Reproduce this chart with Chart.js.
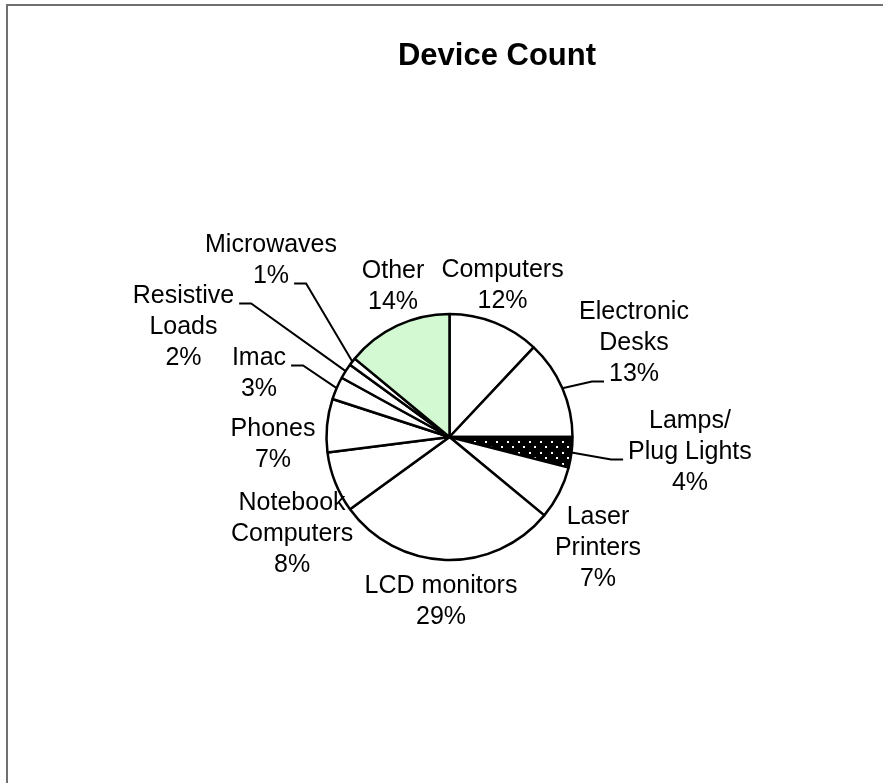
<!DOCTYPE html>
<html>
<head>
<meta charset="utf-8">
<title>Device Count</title>
<script src="https://cdn.jsdelivr.net/npm/chart.js@4.4.1/dist/chart.umd.min.js"></script>
<style>
  html, body { margin: 0; padding: 0; background: #fff; }
  #wrap { position: relative; width: 883px; height: 783px; }
</style>
</head>
<body>
<div id="wrap"><canvas id="deviceChart" width="883" height="783"></canvas></div>
<script>
// chart data
const chartTitle = 'Device Count';
const categories = ['Computers', 'Electronic Desks', 'Lamps/ Plug Lights', 'Laser Printers', 'LCD monitors',
   'Notebook Computers', 'Phones', 'Imac', 'Resistive Loads', 'Microwaves', 'Other'];
const values = [12, 13, 4, 7, 29, 8, 7, 3, 2, 1, 14];
// how each category label wraps
const labelLines = [['Computers'], ['Electronic', 'Desks'], ['Lamps/', 'Plug Lights'], ['Laser', 'Printers'],
   ['LCD monitors'], ['Notebook', 'Computers'], ['Phones'], ['Imac'], ['Resistive', 'Loads'], ['Microwaves'], ['Other']];

// label placement, in pie radii from the centre: [centre x, first baseline y]
const labelPos = [[0.431, -1.301], [1.5, -0.959], [1.955, -0.073], [1.207, 0.707], [-0.069, 1.268],
   [-1.280, 0.593], [-1.435, -0.008], [-1.549, -0.585], [-2.163, -1.089], [-1.451, -1.504], [-0.459, -1.293]];
// leader lines: null = none, otherwise [line index it attaches to, side]
const leaders = [null, [2, 'left'], [1, 'left'], null, null, null, null, [0, 'right'], [0, 'right'], [1, 'right'], null];

const FONT = '"Liberation Sans", Arial, sans-serif';
const LABEL_SIZE = 25;
const LINE_H = 31;

// black with white dots for the lamps slice
function dotPattern(ctx) {
   const tile = document.createElement('canvas');
   tile.width = 11;
   tile.height = 11;
   const t = tile.getContext('2d');
   t.fillStyle = '#000';
   t.fillRect(0, 0, 11, 11);
   t.fillStyle = '#fff';
   t.fillRect(1, 1, 2, 2);
   t.fillRect(6, 6, 2, 2);
   return ctx.createPattern(tile, 'repeat');
}

const ctx = document.getElementById('deviceChart').getContext('2d');
const fills = values.map(() => '#ffffff');
fills[2] = dotPattern(ctx);
fills[10] = '#d2f9d2';

// draws frame, title, data labels and leader lines
const labelPlugin = {
   id: 'excelLabels',
   beforeDraw(chart) {
      const c = chart.ctx;
      c.save();
      c.strokeStyle = '#707070';
      c.lineWidth = 2;
      c.strokeRect(7, 5, 1000, 1000);
      c.restore();
   },
   afterDatasetsDraw(chart) {
      const c = chart.ctx;
      const arcs = chart.getDatasetMeta(0).data;
      c.save();
      c.fillStyle = '#000';
      c.textAlign = 'center';
      c.textBaseline = 'alphabetic';
      c.font = 'bold 31px ' + FONT;
      c.fillText(chartTitle, 497, 65);

      c.font = LABEL_SIZE + 'px ' + FONT;
      arcs.forEach((arc, i) => {
         const p = arc.getProps(['x', 'y', 'startAngle', 'endAngle', 'outerRadius'], true);
         const r = p.outerRadius;
         const cx = p.x + labelPos[i][0] * r;
         const b0 = p.y + labelPos[i][1] * r;
         const lines = labelLines[i].concat([values[i] + '%']);
         lines.forEach((txt, k) => c.fillText(txt, cx, b0 + k * LINE_H));

         const ld = leaders[i];
         if (ld) {
            const mid = (p.startAngle + p.endAngle) / 2;
            const ex = p.x + Math.cos(mid) * r;
            const ey = p.y + Math.sin(mid) * r;
            const w = c.measureText(lines[ld[0]]).width;
            const ly = b0 + ld[0] * LINE_H + 0.5;
            const dir = ld[1] === 'left' ? -1 : 1;
            const endX = cx + dir * (w / 2 + 5);
            const elbowX = endX + dir * 12;
            c.beginPath();
            c.moveTo(ex, ey);
            c.lineTo(elbowX, ly);
            c.lineTo(endX, ly);
            c.strokeStyle = '#000';
            c.lineWidth = 2;
            c.stroke();
         }
      });
      c.restore();
   }
};

new Chart(ctx, {
   type: 'pie',
   data: {
      labels: categories,
      datasets: [{
         data: values,
         backgroundColor: fills,
         borderColor: '#000',
         borderWidth: 2.5
      }]
   },
   options: {
      responsive: false,
      animation: false,
      events: [],
      radius: 123,
      layout: { padding: { left: 16, right: 0, top: 91, bottom: 0 } },
      plugins: {
         legend: { display: false },
         title: { display: false },
         tooltip: { enabled: false }
      }
   },
   plugins: [labelPlugin]
});
</script>
</body>
</html>
